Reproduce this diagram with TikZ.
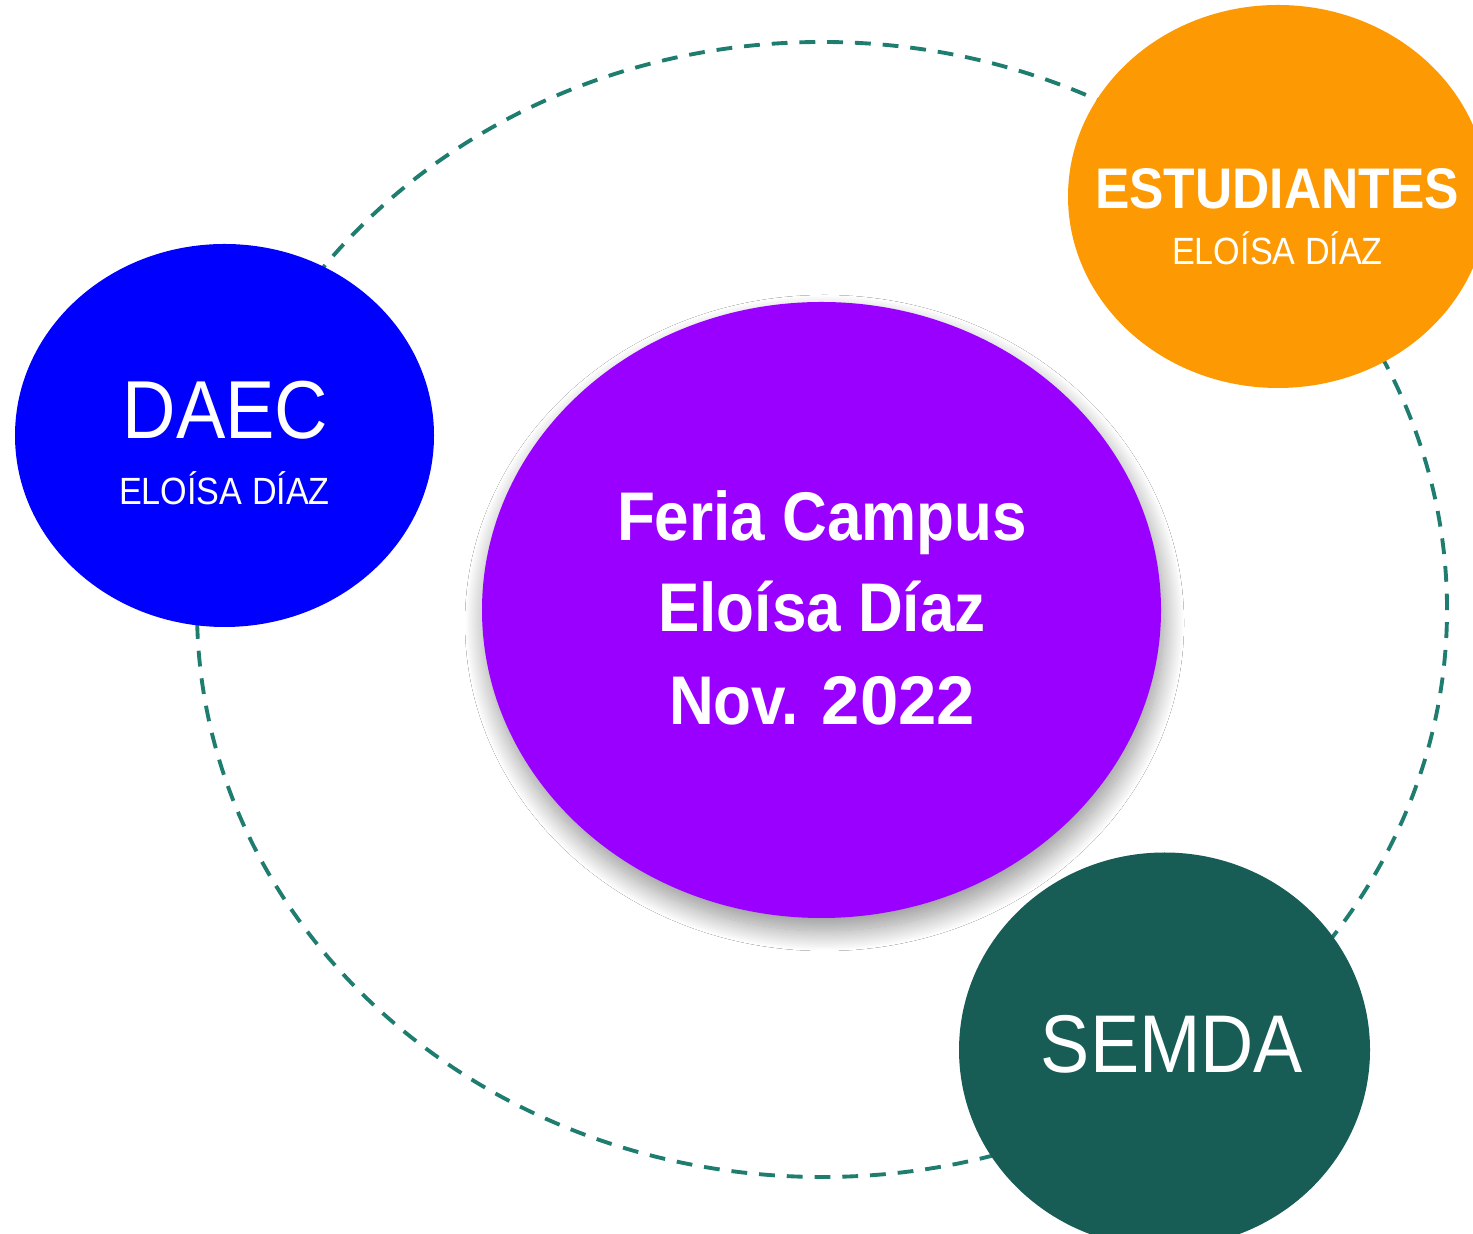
\documentclass[tikz,border=0pt]{standalone}
\usepackage{fontspec}
\setmainfont[FakeStretch=0.9]{Liberation Sans}
\usetikzlibrary{shapes.geometric,shadows.blur}
\definecolor{ringcol}{HTML}{1F7D70}
\definecolor{daecblue}{HTML}{0000FF}
\definecolor{feriapurple}{HTML}{9900FF}
\definecolor{estorange}{HTML}{FD9A03}
\definecolor{semdagreen}{HTML}{175C55}
\begin{document}
\begin{tikzpicture}[x=1cm,y=1cm,
  blob/.style={ellipse, draw=none, inner sep=0pt},
  lbl/.style={text=white, inner sep=0pt, anchor=base}]
\useasboundingbox (0,0) rectangle (14.73,12.33);
\fill[white] (0,0) rectangle (14.73,12.33);
% dashed orbit
\node[ellipse, draw=ringcol, line width=1.1pt, dash pattern=on 4.5pt off 3.4pt,
      minimum width=12.5cm, minimum height=11.35cm, inner sep=0pt] (ring) at (8.22,6.235) {};
% bubbles
\node[blob, fill=daecblue, minimum width=4.19cm, minimum height=3.83cm] (daec) at (2.245,7.975) {};
\node[blob, fill=estorange, minimum width=4.2cm, minimum height=3.83cm] (est) at (12.78,10.365) {};
\node[blob, fill=feriapurple, minimum width=6.79cm, minimum height=6.16cm,
      blur shadow={shadow xshift=0.03cm, shadow yshift=-0.13cm, shadow blur radius=0.2cm,
                   shadow opacity=42, shadow blur steps=30}] (feria) at (8.215,6.23) {};
\node[blob, fill=semdagreen, minimum width=4.11cm, minimum height=3.95cm] (semda) at (11.645,1.83) {};
% labels
\node[lbl, font=\fontsize{23.4}{28}\selectfont] (daect) at (2.255,7.94) {DAEC};
\node[lbl, font=\fontsize{10.8}{13}\selectfont] (daecs) at (2.245,7.28) {ELOÍSA DÍAZ};
\node[lbl, font=\fontsize{16.3}{20}\selectfont\bfseries] (estt) at (12.77,10.24) {ESTUDIANTES};
\node[lbl, font=\fontsize{10.8}{13}\selectfont] (ests) at (12.775,9.68) {ELOÍSA DÍAZ};
\node[lbl, font=\fontsize{23.3}{27}\selectfont] (semdat) at (11.72,1.61) {SEMDA};
\node[lbl, font=\fontsize{19.6}{26}\selectfont\bfseries] (f1) at (8.22,6.92) {Feria Campus};
\node[lbl, font=\fontsize{19.6}{26}\selectfont\bfseries] (f2) at (8.22,6.01) {Eloísa Díaz};
\node[lbl, font=\fontsize{19.6}{26}\selectfont\bfseries] (f3) at (8.22,5.08) {Nov. {\addfontfeature{FakeStretch=1.0}2022}};
\end{tikzpicture}
\end{document}
